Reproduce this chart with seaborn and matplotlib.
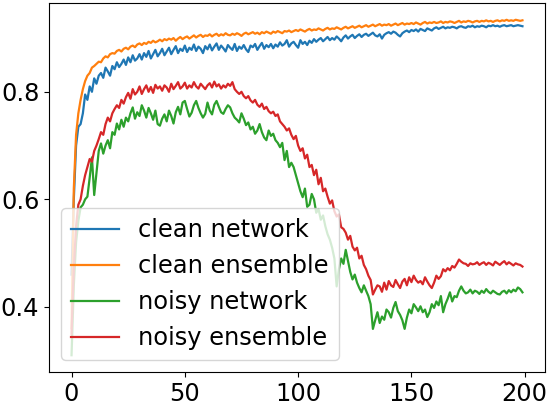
import numpy as np
import pandas as pd
import matplotlib
matplotlib.use("Agg")
import matplotlib.pyplot as plt
import seaborn as sns

series_names = ["clean network", "clean ensemble", "noisy network", "noisy ensemble"]

clean_network = [
    0.46, 0.60, 0.70, 0.735, 0.74, 0.76, 0.795, 0.785, 0.81, 0.80,
    0.825, 0.815, 0.83, 0.835, 0.826, 0.845, 0.838, 0.83, 0.848, 0.842,
    0.855, 0.846, 0.852, 0.86, 0.85, 0.864, 0.855, 0.868, 0.858, 0.862,
    0.87, 0.86, 0.872, 0.865, 0.876, 0.862, 0.87, 0.878, 0.866, 0.872,
    0.88, 0.868, 0.875, 0.882, 0.87, 0.878, 0.885, 0.872, 0.88, 0.876,
    0.886, 0.874, 0.882, 0.878, 0.888, 0.876, 0.884, 0.88, 0.872, 0.885,
    0.879, 0.888, 0.877, 0.884, 0.89, 0.878, 0.886, 0.881, 0.875, 0.887,
    0.882, 0.878, 0.889, 0.876, 0.884, 0.88, 0.887, 0.879, 0.874, 0.886,
    0.883, 0.889, 0.878, 0.885, 0.891, 0.88, 0.887, 0.883, 0.889, 0.881,
    0.888, 0.884, 0.892, 0.886, 0.889, 0.896, 0.884, 0.89, 0.893, 0.887,
    0.882, 0.896, 0.889, 0.893, 0.887, 0.895, 0.891, 0.898, 0.893, 0.897,
    0.90, 0.894, 0.898, 0.902, 0.896, 0.90, 0.897, 0.903, 0.899, 0.894,
    0.901, 0.905, 0.899, 0.903, 0.906, 0.90, 0.904, 0.907, 0.902, 0.906,
    0.908, 0.904, 0.907, 0.91, 0.905, 0.903, 0.907, 0.899, 0.906, 0.909,
    0.911, 0.908, 0.912, 0.91, 0.906, 0.903, 0.909, 0.912, 0.914, 0.911,
    0.915, 0.913, 0.916, 0.912, 0.917, 0.915, 0.913, 0.918, 0.916, 0.914,
    0.918, 0.92, 0.917, 0.919, 0.921, 0.918, 0.92, 0.919, 0.921, 0.92,
    0.918, 0.921, 0.922, 0.92, 0.919, 0.922, 0.921, 0.923, 0.92, 0.922,
    0.921, 0.923, 0.922, 0.92, 0.923, 0.922, 0.924, 0.922, 0.923, 0.921,
    0.923, 0.924, 0.922, 0.923, 0.924, 0.922, 0.923, 0.924, 0.923, 0.922,
]

clean_ensemble = [
    0.36, 0.62, 0.72, 0.76, 0.785, 0.805, 0.82, 0.83, 0.835, 0.845,
    0.848, 0.852, 0.856, 0.855, 0.862, 0.866, 0.864, 0.870, 0.872, 0.871,
    0.876, 0.878, 0.875, 0.880, 0.882, 0.879, 0.884, 0.886, 0.883, 0.888,
    0.890, 0.887, 0.891, 0.889, 0.893, 0.891, 0.895, 0.892, 0.894, 0.897,
    0.894, 0.898, 0.896, 0.899, 0.897, 0.900, 0.895, 0.899, 0.902, 0.898,
    0.901, 0.903, 0.899, 0.902, 0.905, 0.901, 0.904, 0.906, 0.902, 0.905,
    0.904, 0.907, 0.903, 0.906, 0.908, 0.904, 0.907, 0.905, 0.909, 0.906,
    0.905, 0.908, 0.906, 0.909, 0.907, 0.904, 0.908, 0.910, 0.907, 0.909,
    0.911, 0.908, 0.910, 0.907, 0.911, 0.909, 0.912, 0.910, 0.908, 0.912,
    0.910, 0.913, 0.911, 0.909, 0.913, 0.912, 0.914, 0.911, 0.913, 0.915,
    0.913, 0.916, 0.914, 0.912, 0.915, 0.917, 0.914, 0.916, 0.915, 0.918,
    0.916, 0.914, 0.917, 0.919, 0.916, 0.918, 0.917, 0.920, 0.918, 0.916,
    0.919, 0.921, 0.918, 0.920, 0.922, 0.919, 0.921, 0.923, 0.920, 0.922,
    0.924, 0.921, 0.923, 0.925, 0.922, 0.924, 0.926, 0.923, 0.925, 0.924,
    0.926, 0.923, 0.925, 0.927, 0.924, 0.926, 0.928, 0.925, 0.927, 0.926,
    0.928, 0.926, 0.929, 0.927, 0.925, 0.928, 0.930, 0.927, 0.929, 0.928,
    0.930, 0.928, 0.929, 0.931, 0.928, 0.930, 0.929, 0.931, 0.930, 0.928,
    0.930, 0.932, 0.929, 0.931, 0.930, 0.932, 0.931, 0.929, 0.931, 0.932,
    0.930, 0.932, 0.931, 0.933, 0.931, 0.932, 0.930, 0.932, 0.933, 0.931,
    0.933, 0.932, 0.934, 0.932, 0.933, 0.932, 0.934, 0.933, 0.932, 0.933,
]

noisy_network = [
    0.31, 0.44, 0.52, 0.56, 0.585, 0.59, 0.60, 0.605, 0.64, 0.678,
    0.608, 0.65, 0.69, 0.704, 0.685, 0.70, 0.71, 0.695, 0.725, 0.72,
    0.741, 0.73, 0.748, 0.735, 0.752, 0.745, 0.76, 0.771, 0.75, 0.762,
    0.755, 0.775, 0.765, 0.752, 0.77, 0.76, 0.748, 0.765, 0.74, 0.737,
    0.75, 0.758, 0.745, 0.765, 0.755, 0.741, 0.762, 0.772, 0.758, 0.78,
    0.783, 0.768, 0.754, 0.761, 0.775, 0.783, 0.77, 0.76, 0.752, 0.759,
    0.78, 0.765, 0.758, 0.776, 0.783, 0.772, 0.762, 0.759, 0.768, 0.775,
    0.771, 0.76, 0.752, 0.748, 0.743, 0.76, 0.75, 0.738, 0.743, 0.73,
    0.735, 0.722, 0.728, 0.74, 0.725, 0.715, 0.71, 0.728, 0.718, 0.722,
    0.71, 0.705, 0.697, 0.705, 0.673, 0.69, 0.66, 0.668, 0.66, 0.645,
    0.63, 0.615, 0.604, 0.62, 0.586, 0.59, 0.61, 0.60, 0.575, 0.582,
    0.562, 0.57, 0.55, 0.535, 0.525, 0.51, 0.49, 0.438, 0.47, 0.49,
    0.48, 0.506, 0.485, 0.465, 0.451, 0.46, 0.445, 0.435, 0.427, 0.44,
    0.43, 0.42, 0.405, 0.359, 0.375, 0.39, 0.37, 0.382, 0.376, 0.395,
    0.39, 0.38, 0.398, 0.409, 0.392, 0.385, 0.375, 0.359, 0.38, 0.395,
    0.388, 0.405, 0.399, 0.392, 0.401, 0.39, 0.395, 0.381, 0.39, 0.405,
    0.398, 0.41, 0.403, 0.42, 0.39, 0.405, 0.415, 0.427, 0.41, 0.42,
    0.418, 0.43, 0.438, 0.43, 0.425, 0.427, 0.432, 0.425, 0.43, 0.428,
    0.424, 0.43, 0.426, 0.433, 0.428, 0.425, 0.43, 0.427, 0.424, 0.423,
    0.428, 0.43, 0.425, 0.431, 0.427, 0.432, 0.429, 0.436, 0.433, 0.427,
]

noisy_ensemble = [
    0.35, 0.47, 0.55, 0.59, 0.60, 0.625, 0.645, 0.66, 0.675, 0.67,
    0.69, 0.70, 0.712, 0.725, 0.72, 0.74, 0.752, 0.745, 0.76, 0.768,
    0.775, 0.77, 0.785, 0.778, 0.79, 0.798, 0.787, 0.805, 0.795, 0.80,
    0.81, 0.796, 0.805, 0.812, 0.80, 0.809, 0.798, 0.813, 0.806, 0.81,
    0.802, 0.812, 0.808, 0.80, 0.815, 0.805, 0.811, 0.818, 0.806, 0.81,
    0.817, 0.806, 0.812, 0.808, 0.818, 0.81, 0.806, 0.815, 0.81, 0.805,
    0.812, 0.816, 0.808, 0.819, 0.81, 0.814, 0.806, 0.812, 0.808, 0.815,
    0.811, 0.818, 0.805, 0.80, 0.796, 0.80, 0.792, 0.788, 0.792, 0.784,
    0.78, 0.785, 0.776, 0.772, 0.778, 0.768, 0.772, 0.764, 0.76, 0.763,
    0.755, 0.758, 0.745, 0.74, 0.735, 0.728, 0.732, 0.72, 0.712, 0.718,
    0.70, 0.69, 0.695, 0.676, 0.683, 0.66, 0.664, 0.645, 0.655, 0.628,
    0.64, 0.615, 0.62, 0.605, 0.592, 0.598, 0.578, 0.568, 0.572, 0.548,
    0.545, 0.538, 0.525, 0.532, 0.512, 0.505, 0.51, 0.49, 0.495, 0.478,
    0.47, 0.458, 0.45, 0.423, 0.432, 0.44, 0.438, 0.428, 0.445, 0.432,
    0.448, 0.44, 0.437, 0.45, 0.442, 0.435, 0.447, 0.452, 0.44, 0.455,
    0.446, 0.458, 0.45, 0.445, 0.448, 0.442, 0.455, 0.447, 0.44, 0.435,
    0.445, 0.458, 0.452, 0.457, 0.47, 0.466, 0.472, 0.468, 0.476, 0.473,
    0.48, 0.488, 0.484, 0.481, 0.48, 0.476, 0.481, 0.479, 0.48, 0.483,
    0.478, 0.481, 0.483, 0.478, 0.482, 0.48, 0.477, 0.484, 0.481, 0.478,
    0.482, 0.485, 0.479, 0.483, 0.48, 0.477, 0.481, 0.479, 0.478, 0.475,
]

epochs = list(range(len(clean_network)))

plt.rcParams["font.size"] = 17.4
plt.rcParams["font.family"] = ["DejaVu Sans"]

fig = plt.figure(figsize=(5.52, 4.05), dpi=100)
ax = fig.add_axes([49 / 552, 1 - 372 / 405, 496 / 552, 369 / 405])

palette = sns.color_palette("tab10")
all_series = [clean_network, clean_ensemble, noisy_network, noisy_ensemble]
for i, (name, vals) in enumerate(zip(series_names, all_series)):
    sns.lineplot(x=epochs, y=vals, label=name, color=palette[i], ax=ax, linewidth=1.6)

ax.set_xticks([0, 50, 100, 150, 200])
ax.set_yticks([0.4, 0.6, 0.8])
ax.legend(loc="lower left")

fig.savefig("out.png", dpi=100)
